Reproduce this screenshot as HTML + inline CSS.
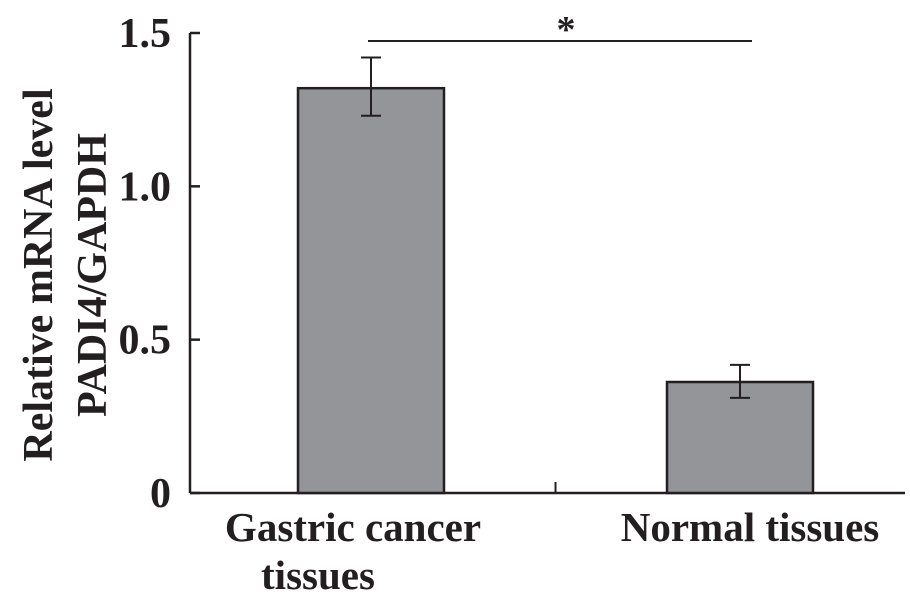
<!DOCTYPE html>
<html><head><meta charset="utf-8"><style>
html,body{margin:0;padding:0;background:#fff;}
svg{display:block;}
text{font-family:"Liberation Serif",serif;font-weight:bold;fill:#231f20;}
</style></head><body>
<svg id="chart" width="910" height="602" viewBox="0 0 910 602">
<g id="axes"></g><g id="bars"></g>
<text x="52" y="275" font-size="42" text-anchor="middle" transform="rotate(-90 52 275)">Relative mRNA level</text>
<text x="106" y="275" font-size="42" text-anchor="middle" transform="rotate(-90 106 275)">PADI4/GAPDH</text>
<line x1="368" y1="41" x2="752" y2="41" stroke="#231f20" stroke-width="2"/>
<text x="566" y="42" font-size="38" text-anchor="middle">*</text>
</svg>
<script>
const categories=["Gastric cancer tissues","Normal tissues"];
const values=[1.32,0.362];
const errHigh=[1.42,0.418];
const errLow=[1.23,0.310];
const yTicks=[0,0.5,1.0,1.5];
const yTickLabels=["0","0.5","1.0","1.5"];
const NS="http://www.w3.org/2000/svg";
const x0=190,y0=493,yTop=33,xEnd=905,first=371,step=369;
const y=v=>y0-(v/1.5)*(y0-yTop);
const bx=i=>first+step*i;
function mk(tag,attrs,parent){const e=document.createElementNS(NS,tag);for(const k in attrs)e.setAttribute(k,attrs[k]);parent.appendChild(e);return e;}
const axes=document.getElementById('axes'),bars=document.getElementById('bars');
let el=mk('line',{x1:x0,y1:yTop,x2:x0,y2:y0,stroke:'#231f20','stroke-width':2.5},axes);


yTicks.forEach((t,i)=>{
 const tl=mk('line',{x1:x0,y1:y(t),x2:x0+10,y2:y(t),stroke:'#231f20','stroke-width':2.5},axes);
 
 
 const tx=mk('text',{x:171,y:y(t)+14,'font-size':42,'text-anchor':'end'},axes);
 tx.textContent=yTickLabels[i];
 
 
});
categories.forEach((c,i)=>{
 if(i>0){const mx=(bx(i-1)+bx(i))/2;const m=mk('line',{x1:mx,y1:y0,x2:mx,y2:y0-11,stroke:'#231f20','stroke-width':2},axes);
 
 }
 const cx=bx(i),w=146;
 const r=mk('rect',{x:cx-w/2,y:y(values[i]),width:w,height:y0-y(values[i]),fill:'#939598',stroke:'#231f20','stroke-width':2.5},bars);
 
 
 const g=mk('g',{stroke:'#231f20','stroke-width':2},bars);
 
 
 mk('line',{x1:cx,y1:y(errHigh[i]),x2:cx,y2:y(errLow[i])},g);
 mk('line',{x1:cx-10,y1:y(errHigh[i]),x2:cx+10,y2:y(errHigh[i])},g);
 mk('line',{x1:cx-10,y1:y(errLow[i]),x2:cx+10,y2:y(errLow[i])},g);
});
el=mk('line',{x1:x0,y1:y0,x2:xEnd,y2:y0,stroke:'#231f20','stroke-width':2.5},axes);


const lab=[["Gastric cancer","tissues"],["Normal tissues"]];
lab.forEach((ls,i)=>{ls.forEach((s,j)=>{
 const cx=i===0?(j===0?353:318):750;
 const t=mk('text',{x:cx,y:541+j*48,'font-size':41,'text-anchor':'middle'},axes);
 t.textContent=s;
 
 
});});
</script>
</body></html>
